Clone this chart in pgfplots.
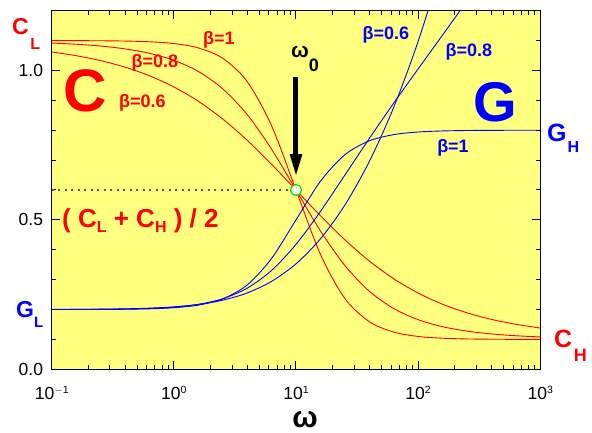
\documentclass[border=0pt]{standalone}
\usepackage{fontspec}
\setmainfont{Liberation Sans}
\usepackage{pgfplots}
\pgfplotsset{compat=1.18}
\usepackage{pgfplotstable}
\usetikzlibrary{arrows.meta}
\definecolor{bgy}{RGB}{255,255,128}
\definecolor{cred}{RGB}{255,0,0}
\definecolor{cblue}{RGB}{0,0,255}
\definecolor{mgreen}{RGB}{0,225,0}
\newcommand{\fs}[1]{\fontsize{#1}{#1}\selectfont}
\newcommand{\sub}[3]{\raisebox{-#2pt}{\fs{#1}#3}}
\newcommand{\ex}[1]{10\raisebox{5.5pt}{\fs{10.5}#1}}

\pgfplotstableread{
w C1 C08 C06 G1 G08 G06
0.1 1.09990 1.09174 1.06191 0.20006 0.20014 0.20028
0.158489 1.09975 1.08775 1.04948 0.20015 0.20032 0.20058
0.251189 1.09937 1.08167 1.03297 0.20038 0.20073 0.20117
0.398107 1.09842 1.07226 1.01111 0.20095 0.20164 0.20235
0.630957 1.09604 1.05749 0.98232 0.20238 0.20366 0.20463
1 1.09010 1.03403 0.94486 0.20594 0.20805 0.20898
1.58489 1.07550 0.99676 0.89700 0.21470 0.21735 0.21700
2.51189 1.04065 0.93872 0.83756 0.23561 0.23611 0.23124
3.98107 0.96319 0.85277 0.76658 0.28209 0.27131 0.25539
6.30957 0.81525 0.73676 0.68604 0.37085 0.33067 0.29417
10 0.60000 0.60000 0.60000 0.50000 0.41796 0.35286
15.8489 0.38475 0.46324 0.51396 0.62916 0.52824 0.43654
25.1189 0.23681 0.34723 0.43342 0.71793 0.64991 0.54949
39.8107 0.15935 0.26128 0.36244 0.76440 0.77234 0.69514
63.0957 0.12450 0.20324 0.30300 0.78531 0.89074 0.87659
100 0.10990 0.16597 0.25514 0.79406 1.00526 1.09760
158.489 0.10397 0.14251 0.21768 0.79762 1.11841 1.36318
251.189 0.10158 0.12774 0.18889 0.79905 1.23296 1.68001
398.107 0.10063 0.11833 0.16703 0.79962 1.35171 2.05717
630.957 0.10025 0.11225 0.15052 0.79985 1.47693 2.50590
1000 0.10010 0.10826 0.13809 0.79994 1.61060 3.04100
}\data

\begin{document}
\begin{tikzpicture}
\path[use as bounding box] (0,0) rectangle (592pt,433pt);
\begin{axis}[
  at={(51.7pt,63.7pt)}, anchor=south west,
  scale only axis, width=488.6pt, height=358.6pt,
  xmode=log, xmin=0.1, xmax=1000, ymin=0, ymax=1.2,
  axis background/.style={fill=bgy},
  axis line style={line width=1.4pt},
  tick align=inside,
  major tick length=8pt, minor tick length=4pt,
  every tick/.style={black, line width=1pt},
  xtick={0.1,1,10,100,1000},
  xticklabels={\ex{$-$1},\ex{0},\ex{1},\ex{2},\ex{3}},
  ytick={0,0.5,1},
  yticklabels={0.0,0.5,1.0},
  minor ytick={0.1,0.2,0.3,0.4,0.6,0.7,0.8,0.9,1.1},
  xticklabel style={font=\fs{17.5}, inner sep=0pt, anchor=north, yshift=-17pt},
  yticklabel style={font=\fs{17.5}, inner sep=0pt, anchor=east, xshift=-8.5pt},
  clip mode=individual,
]
\addplot[cred, line width=0.9pt, smooth] table[x=w, y=C1] {\data};
\addplot[cred, line width=0.9pt, smooth] table[x=w, y=C08] {\data};
\addplot[cred, line width=0.9pt, smooth] table[x=w, y=C06] {\data};
\addplot[cblue, line width=0.9pt, smooth] table[x=w, y=G1] {\data};
\addplot[cblue, line width=0.9pt, smooth] table[x=w, y=G08] {\data};
\addplot[cblue, line width=0.9pt, smooth] table[x=w, y=G06] {\data};
\addplot[black!65, line width=1.3pt, dash pattern=on 2pt off 4.5pt] coordinates {(0.1,0.6) (10,0.6)};
\addplot[only marks, mark=*, mark size=5.5pt, mark options={fill=white, draw=mgreen, line width=1.2pt}] coordinates {(10,0.6)};
\draw[line width=5pt, -{Triangle[length=23pt, width=11pt]}] (axis cs:10,0.978) -- (axis cs:10,0.643);
\end{axis}
% labels
\node[anchor=base west, inner sep=0pt, text=cred, font=\bfseries\fs{23}] at (12pt,398pt) {C\kern1.5pt\sub{16}{15}{L}};
\node[anchor=base west, inner sep=0pt, text=cblue, font=\bfseries\fs{23}] at (16pt,115pt) {G\sub{15}{10}{L}};
\node[anchor=base west, inner sep=0pt, text=cblue, font=\bfseries\fs{25}] at (547pt,291pt) {G\kern1pt\sub{16}{11}{H}};
\node[anchor=base west, inner sep=0pt, text=cred, font=\bfseries\fs{25}] at (554pt,85pt) {C\kern1.5pt\sub{18}{14}{H}};
\node[inner sep=0pt, text=cred, font=\bfseries\fs{60}] at (85pt,342.5pt) {C};
\node[inner sep=0pt, text=cblue, font=\bfseries\fs{56}] at (495pt,330.5pt) {G};
\node[inner sep=0pt, text=cred, font=\bfseries\fs{18}] at (219pt,393.5pt) {β=1};
\node[inner sep=0pt, text=cred, font=\bfseries\fs{18}] at (155pt,370.5pt) {β=0.8};
\node[inner sep=0pt, text=cred, font=\bfseries\fs{18}] at (142.5pt,330.5pt) {β=0.6};
\node[inner sep=0pt, text=cblue, font=\bfseries\fs{18}] at (386pt,398.5pt) {β=0.6};
\node[inner sep=0pt, text=cblue, font=\bfseries\fs{18}] at (469pt,381.5pt) {β=0.8};
\node[inner sep=0pt, text=cblue, font=\bfseries\fs{18}] at (453pt,285.5pt) {β=1};
\node[anchor=base west, inner sep=0pt, text=cred, font=\bfseries\fs{26}] at (62pt,205pt) {( C\sub{16}{5}{L} + C\sub{16}{5}{H} ) / 2};
\node[anchor=base west, inner sep=0pt, text=black, font=\bfseries\fs{21}] at (291pt,375pt) {ω\sub{18}{14}{0}};
\node[inner sep=0pt, text=black, font=\bfseries\fs{30}] at (305pt,13.5pt) {ω};
\end{tikzpicture}
\end{document}
